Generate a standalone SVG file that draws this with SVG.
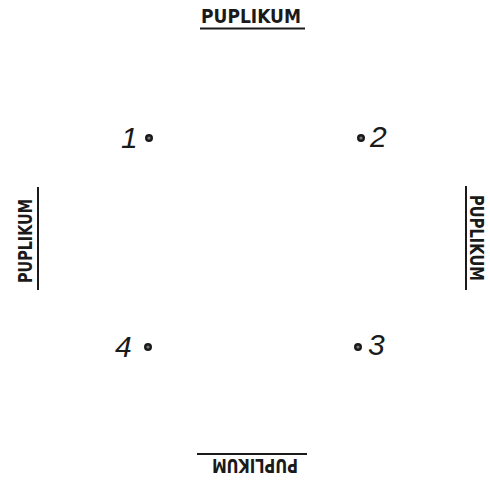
<svg xmlns="http://www.w3.org/2000/svg" width="490" height="482" viewBox="0 0 490 482">
<style>
.lbl{font-family:"DejaVu Sans","Liberation Sans",sans-serif;font-size:19px;font-weight:bold;fill:#1a1a1a;letter-spacing:0}
.ul{stroke:#1a1a1a;stroke-width:2;fill:none}
.num{font-family:"Liberation Sans",sans-serif;font-style:italic;font-size:30px;fill:#1a1a1a}
.dot{fill:#777;stroke:#1a1a1a;stroke-width:2.4}
</style>
<rect width="490" height="482" fill="#ffffff"/>
<g id="publikum-top">
<text class="lbl" x="201" y="23" textLength="100" lengthAdjust="spacingAndGlyphs">PUPLIKUM</text>
<line class="ul" x1="200" y1="28.5" x2="305" y2="28.5"/>
</g>
<g id="publikum-bottom" transform="rotate(180 255 467)">
<text class="lbl" x="212" y="475" textLength="86" lengthAdjust="spacingAndGlyphs">PUPLIKUM</text>
<line class="ul" x1="203" y1="480" x2="313" y2="480"/>
</g>
<g id="publikum-left" transform="rotate(-90 25 240)">
<text class="lbl" x="-18" y="247" textLength="84" lengthAdjust="spacingAndGlyphs">PUPLIKUM</text>
<line class="ul" x1="-25" y1="253" x2="78" y2="253"/>
</g>
<g id="publikum-right" transform="rotate(90 478 238)">
<text class="lbl" x="435" y="246" textLength="86" lengthAdjust="spacingAndGlyphs">PUPLIKUM</text>
<line class="ul" x1="426" y1="250" x2="530" y2="250"/>
</g>
<g id="pos-1">
<text class="num" x="121" y="148">1</text>
<circle class="dot" cx="149" cy="138" r="2.8"/>
</g>
<g id="pos-2">
<circle class="dot" cx="361" cy="138" r="2.8"/>
<text class="num" x="370" y="147">2</text>
</g>
<g id="pos-3">
<circle class="dot" cx="358" cy="347" r="2.8"/>
<text class="num" x="368" y="355">3</text>
</g>
<g id="pos-4">
<text class="num" x="115" y="357">4</text>
<circle class="dot" cx="148" cy="347" r="2.8"/>
</g>
</svg>
